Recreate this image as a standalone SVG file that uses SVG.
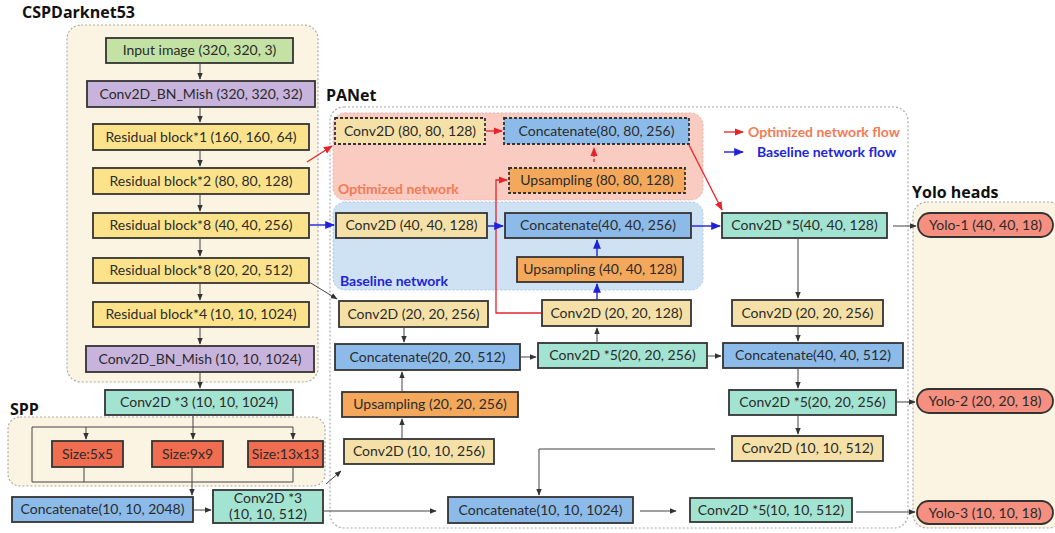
<svg xmlns="http://www.w3.org/2000/svg" width="1055" height="533" viewBox="0 0 1055 533">
<defs>
<style>
.t{font-family:Lato,"Open Sans","Liberation Sans",sans-serif;font-size:14px;fill:#2b2b2b;text-anchor:middle}
.title{font-family:"Open Sans","Liberation Sans",sans-serif;font-size:16px;font-weight:bold;fill:#111}
.b{stroke:#333;stroke-width:1.8}
.d{stroke:#333;stroke-width:1.8;stroke-dasharray:3 2}
.cream{fill:#f5e1a8}.yel{fill:#fce38b}.grn{fill:#c3e2a3}.pur{fill:#c8b3dc}.teal{fill:#a3e3d2}.blu{fill:#8cbbe9}.org{fill:#f3a85c}.red{fill:#f16d50}.yolo{fill:#f58f80}
.c{fill:none;stroke:#444;stroke-width:1}
.cr{fill:none;stroke:#e8232a;stroke-width:1.3}
.cb{fill:none;stroke:#1f22d8;stroke-width:1.4}
.cont{stroke:#aaa;stroke-width:1.2;stroke-dasharray:2 2}
</style>
<marker id="a" viewBox="0 0 10 10" refX="9" refY="5" markerWidth="7" markerHeight="7" orient="auto"><path d="M0,1 L10,5 L0,9 z" fill="#333"/></marker>
<marker id="ar" viewBox="0 0 10 10" refX="9" refY="5" markerWidth="7" markerHeight="7" orient="auto"><path d="M0,1 L10,5 L0,9 z" fill="#e8232a"/></marker>
<marker id="ab" viewBox="0 0 10 10" refX="9" refY="5" markerWidth="7" markerHeight="7" orient="auto"><path d="M0,1 L10,5 L0,9 z" fill="#1f22d8"/></marker>
</defs>
<rect width="1055" height="533" fill="#fff"/>

<!-- containers -->
<g id="containers">
<rect x="67" y="25" width="251" height="357" rx="14" fill="#fcf4e3" class="cont"/>
<rect x="8" y="417" width="317" height="69" rx="12" fill="#fcf4e3" class="cont"/>
<rect x="330" y="107" width="578" height="421" rx="14" fill="#fff" class="cont"/>
<rect x="913" y="202" width="150" height="326" rx="14" fill="#fcf4e3" class="cont"/>
<rect x="333" y="113" width="370" height="87" rx="12" fill="#f9cbc1" stroke="#f3b1a5" stroke-width="1" stroke-dasharray="2 2"/>
<rect x="333" y="202" width="370" height="88" rx="12" fill="#cfe2f3" stroke="#a9c6e4" stroke-width="1" stroke-dasharray="2 2"/>
<text x="22" y="18" class="title">CSPDarknet53</text>
<text x="10" y="415" class="title">SPP</text>
<text x="326" y="101" class="title">PANet</text>
<text x="912" y="198" class="title">Yolo heads</text>
<text x="338" y="194" style="font-family:Lato,'Open Sans',sans-serif;font-size:14px;font-weight:bold;fill:#f47a55">Optimized network</text>
<text x="340" y="286" style="font-family:Lato,'Open Sans',sans-serif;font-size:14px;font-weight:bold;fill:#2224d9">Baseline network</text>
</g>

<!-- legend -->
<g id="legend">
<line x1="724" y1="132" x2="743" y2="132" class="cr" marker-end="url(#ar)"/>
<text x="748" y="137" style="font-family:Lato,'Open Sans',sans-serif;font-size:14px;font-weight:bold;fill:#f47a55">Optimized network flow</text>
<line x1="724" y1="152" x2="743" y2="152" class="cb" marker-end="url(#ab)"/>
<text x="757" y="157" style="font-family:Lato,'Open Sans',sans-serif;font-size:14px;font-weight:bold;fill:#2224d9">Baseline network flow</text>
</g>

<!-- CSPDarknet nodes -->
<g id="n-input"><rect x="106" y="38" width="187" height="25" class="grn b"/><text x="199.5" y="55" class="t">Input image (320, 320, 3)</text></g>
<g id="n-cbm1"><rect x="87" y="81" width="228" height="26" class="pur b"/><text x="201" y="98.5" class="t">Conv2D_BN_Mish (320, 320, 32)</text></g>
<g id="n-res1"><rect x="93" y="124" width="216" height="26" class="yel b"/><text x="201" y="141.5" class="t">Residual block*1 (160, 160, 64)</text></g>
<g id="n-res2"><rect x="93" y="168" width="216" height="26" class="yel b"/><text x="201" y="185.5" class="t">Residual block*2 (80, 80, 128)</text></g>
<g id="n-res3"><rect x="93" y="213" width="216" height="25" class="yel b"/><text x="201" y="230" class="t">Residual block*8 (40, 40, 256)</text></g>
<g id="n-res4"><rect x="93" y="258" width="216" height="25" class="yel b"/><text x="201" y="275" class="t">Residual block*8 (20, 20, 512)</text></g>
<g id="n-res5"><rect x="93" y="302" width="216" height="25" class="yel b"/><text x="201" y="319" class="t">Residual block*4 (10, 10, 1024)</text></g>
<g id="n-cbm2"><rect x="86" y="346" width="228" height="26" class="pur b"/><text x="200" y="363.5" class="t">Conv2D_BN_Mish (10, 10, 1024)</text></g>
<g id="n-conv3a"><rect x="105" y="390" width="188" height="25" class="teal b"/><text x="199" y="407" class="t">Conv2D *3 (10, 10, 1024)</text></g>

<!-- SPP nodes -->
<g id="n-s5"><rect x="52" y="441" width="71" height="26" class="red b"/><text x="87.5" y="458.5" class="t">Size:5x5</text></g>
<g id="n-s9"><rect x="152" y="441" width="71" height="26" class="red b"/><text x="187.5" y="458.5" class="t">Size:9x9</text></g>
<g id="n-s13"><rect x="248" y="441" width="75" height="26" class="red b"/><text x="285.5" y="458.5" class="t">Size:13x13</text></g>
<g id="n-cat2048"><rect x="12" y="497" width="181" height="25" class="blu b"/><text x="102.5" y="514" class="t">Concatenate(10, 10, 2048)</text></g>
<g id="n-conv3b"><rect x="213" y="490" width="110" height="33" class="teal b"/><text x="268" y="503" class="t">Conv2D *3</text><text x="268" y="519" class="t">(10, 10, 512)</text></g>

<!-- PANet nodes -->
<g id="n-c80"><rect x="335" y="118" width="150" height="26" class="cream d"/><text x="410" y="135.5" class="t">Conv2D (80, 80, 128)</text></g>
<g id="n-cat80"><rect x="504" y="118" width="185" height="26" class="blu d"/><text x="596.5" y="135.5" class="t">Concatenate(80, 80, 256)</text></g>
<g id="n-up80"><rect x="509" y="168" width="176" height="25" class="org d"/><text x="597" y="185" class="t">Upsampling (80, 80, 128)</text></g>
<g id="n-c40"><rect x="336" y="213" width="151" height="25" class="cream b"/><text x="411.5" y="230" class="t">Conv2D (40, 40, 128)</text></g>
<g id="n-cat40"><rect x="505" y="213" width="186" height="25" class="blu b"/><text x="598" y="230" class="t">Concatenate(40, 40, 256)</text></g>
<g id="n-up40"><rect x="517" y="257" width="166" height="25" class="org b"/><text x="600" y="274" class="t">Upsampling (40, 40, 128)</text></g>
<g id="n-c20a"><rect x="339" y="301" width="149" height="26" class="cream b"/><text x="413.5" y="318.5" class="t">Conv2D (20, 20, 256)</text></g>
<g id="n-c20b"><rect x="542" y="300" width="149" height="26" class="cream b"/><text x="616.5" y="317.5" class="t">Conv2D (20, 20, 128)</text></g>
<g id="n-cat20"><rect x="335" y="344" width="185" height="26" class="blu b"/><text x="427.5" y="361.5" class="t">Concatenate(20, 20, 512)</text></g>
<g id="n-c5_20a"><rect x="538" y="343" width="169" height="25" class="teal b"/><text x="622.5" y="360" class="t">Conv2D *5(20, 20, 256)</text></g>
<g id="n-up20"><rect x="342" y="392" width="176" height="25" class="org b"/><text x="430" y="409" class="t">Upsampling (20, 20, 256)</text></g>
<g id="n-c10a"><rect x="344" y="439" width="150" height="25" class="cream b"/><text x="419" y="456" class="t">Conv2D (10, 10, 256)</text></g>
<g id="n-cat1024"><rect x="448" y="497" width="185" height="26" class="blu b"/><text x="540.5" y="514.5" class="t">Concatenate(10, 10, 1024)</text></g>
<g id="n-c5_40"><rect x="722" y="213" width="165" height="25" class="teal b"/><text x="804.5" y="230" class="t">Conv2D *5(40, 40, 128)</text></g>
<g id="n-c20c"><rect x="732" y="300" width="151" height="26" class="cream b"/><text x="807.5" y="317.5" class="t">Conv2D (20, 20, 256)</text></g>
<g id="n-cat40b"><rect x="723" y="343" width="180" height="25" class="blu b"/><text x="813" y="360" class="t">Concatenate(40, 40, 512)</text></g>
<g id="n-c5_20b"><rect x="729" y="390" width="167" height="25" class="teal b"/><text x="812.5" y="407" class="t">Conv2D *5(20, 20, 256)</text></g>
<g id="n-c10b"><rect x="732" y="436" width="151" height="25" class="cream b"/><text x="807.5" y="453" class="t">Conv2D (10, 10, 512)</text></g>
<g id="n-c5_10"><rect x="690" y="498" width="162" height="24" class="teal b"/><text x="771" y="514.5" class="t">Conv2D *5(10, 10, 512)</text></g>

<!-- Yolo heads -->
<g id="n-yolo1"><rect x="918" y="213" width="135" height="24" rx="12" class="yolo b"/><text x="985.5" y="230" class="t">Yolo-1 (40, 40, 18)</text></g>
<g id="n-yolo2"><rect x="917" y="389" width="136" height="24" rx="12" class="yolo b"/><text x="985" y="406" class="t">Yolo-2 (20, 20, 18)</text></g>
<g id="n-yolo3"><rect x="917" y="501" width="136" height="23" rx="11.5" class="yolo b"/><text x="985" y="517.5" class="t">Yolo-3 (10, 10, 18)</text></g>

<!-- connectors -->
<g id="connectors">
<line x1="200" y1="64" x2="200" y2="79" class="c" marker-end="url(#a)"/>
<line x1="200" y1="108" x2="200" y2="122" class="c" marker-end="url(#a)"/>
<line x1="200" y1="151" x2="200" y2="166" class="c" marker-end="url(#a)"/>
<line x1="200" y1="195" x2="200" y2="211" class="c" marker-end="url(#a)"/>
<line x1="200" y1="239" x2="200" y2="256" class="c" marker-end="url(#a)"/>
<line x1="200" y1="284" x2="200" y2="300" class="c" marker-end="url(#a)"/>
<line x1="200" y1="328" x2="200" y2="344" class="c" marker-end="url(#a)"/>
<line x1="200" y1="373" x2="200" y2="388" class="c" marker-end="url(#a)"/>
<!-- SPP -->
<line x1="193" y1="416" x2="193" y2="439" class="c" marker-end="url(#a)"/>
<polyline points="32,482 32,427 293,427" class="c"/>
<line x1="86" y1="427" x2="86" y2="439" class="c" marker-end="url(#a)"/>
<line x1="293" y1="427" x2="293" y2="439" class="c" marker-end="url(#a)"/>
<polyline points="84,468 84,482" class="c"/>
<polyline points="293,468 293,482" class="c"/>
<line x1="32" y1="482" x2="293" y2="482" class="c"/>
<line x1="192" y1="468" x2="192" y2="495" class="c" marker-end="url(#a)"/>
<line x1="194" y1="510" x2="211" y2="510" class="c" marker-end="url(#a)"/>
<line x1="326" y1="484" x2="341" y2="471" class="c" marker-end="url(#a)"/>
<line x1="324" y1="511" x2="436" y2="511" class="c" marker-end="url(#a)"/>
<!-- optimized (red) -->
<line x1="307" y1="162" x2="332" y2="146" class="cr" marker-end="url(#ar)"/>
<line x1="486" y1="131" x2="502" y2="131" class="cr" marker-end="url(#ar)"/>
<line x1="594" y1="162" x2="594" y2="148" class="cr" stroke-dasharray="3 2" marker-end="url(#ar)"/>
<polyline points="541,313 496,313 496,180 507,180" class="cr" marker-end="url(#ar)"/>
<line x1="689" y1="145" x2="722" y2="210" class="cr" marker-end="url(#ar)"/>
<!-- baseline (blue) -->
<line x1="310" y1="225" x2="334" y2="225" class="cb" marker-end="url(#ab)"/>
<line x1="488" y1="226" x2="503" y2="226" class="cb" marker-end="url(#ab)"/>
<line x1="692" y1="226" x2="720" y2="226" class="cb" marker-end="url(#ab)"/>
<line x1="597" y1="256" x2="597" y2="240" class="cb" marker-end="url(#ab)"/>
<line x1="597" y1="299" x2="597" y2="284" class="cb" marker-end="url(#ab)"/>
<!-- PANet black -->
<line x1="309" y1="282" x2="337" y2="299" class="c" marker-end="url(#a)"/>
<line x1="404" y1="328" x2="404" y2="342" class="c" marker-end="url(#a)"/>
<line x1="521" y1="357" x2="536" y2="357" class="c" marker-end="url(#a)"/>
<line x1="597" y1="342" x2="597" y2="328" class="c" marker-end="url(#a)"/>
<line x1="708" y1="356" x2="721" y2="356" class="c" marker-end="url(#a)"/>
<line x1="402" y1="391" x2="402" y2="372" class="c" marker-end="url(#a)"/>
<line x1="402" y1="438" x2="402" y2="419" class="c" marker-end="url(#a)"/>
<polyline points="715,449 539,449 539,495" class="c" marker-end="url(#a)"/>
<line x1="640" y1="511" x2="676" y2="511" class="c" marker-end="url(#a)"/>
<line x1="798" y1="239" x2="798" y2="298" class="c" marker-end="url(#a)"/>
<line x1="798" y1="327" x2="798" y2="341" class="c" marker-end="url(#a)"/>
<line x1="798" y1="369" x2="798" y2="388" class="c" marker-end="url(#a)"/>
<line x1="798" y1="416" x2="798" y2="434" class="c" marker-end="url(#a)"/>
<line x1="893" y1="226" x2="916" y2="226" class="c" marker-end="url(#a)"/>
<line x1="897" y1="402" x2="915" y2="402" class="c" marker-end="url(#a)"/>
<line x1="856" y1="512" x2="915" y2="512" class="c" marker-end="url(#a)"/>
</g>
</svg>
